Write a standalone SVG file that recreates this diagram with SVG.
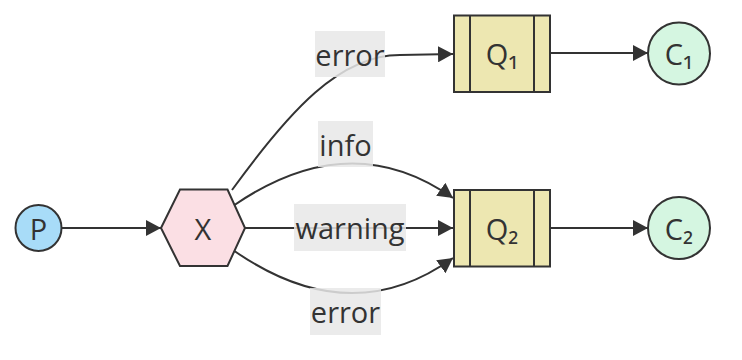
<svg xmlns="http://www.w3.org/2000/svg" width="742" height="360" viewBox="0 0 742 360">
<style>
.node{stroke:#333;stroke-width:2}
.t{font-family:"Open Sans","DejaVu Sans",sans-serif;font-size:29px;fill:#333;text-anchor:middle;dominant-baseline:central}
.e{fill:none;stroke:#333;stroke-width:2}
.lbg{fill:#e8e8e8;opacity:0.85}
</style>
<defs>
<marker id="arr" markerUnits="userSpaceOnUse" markerWidth="16" markerHeight="16" refX="15" refY="8" orient="auto">
<path d="M0,0 L15,8 L0,16 z" fill="#333"/>
</marker>
</defs>
<rect width="742" height="360" fill="#fff"/>
<g id="connectors">
<path class="e" d="M62,228 L161,228" marker-end="url(#arr)"/>
<path class="e" d="M232,190 C290,110 340,55 400,55 L453,54" marker-end="url(#arr)"/>
<path class="e" d="M233,206 Q350,125 453,198" marker-end="url(#arr)"/>
<path class="e" d="M245,228 L453,228" marker-end="url(#arr)"/>
<path class="e" d="M233,250 Q350,332 453,258" marker-end="url(#arr)"/>
<path class="e" d="M550,53 L648,53" marker-end="url(#arr)"/>
<path class="e" d="M550,228 L648,228" marker-end="url(#arr)"/>
<g id="labels">
<rect class="lbg" x="315" y="31" width="70" height="46"/>
<text class="t" x="350" y="54">error</text>
<rect class="lbg" x="318" y="121" width="55" height="46"/>
<text class="t" x="345.5" y="144">info</text>
<rect class="lbg" x="294" y="204" width="112" height="47"/>
<text class="t" x="350" y="227.5">warning</text>
<rect class="lbg" x="310" y="288" width="71" height="47"/>
<text class="t" x="345.5" y="311.5">error</text>
</g>
</g>
<g id="P">
<circle class="node" cx="38.5" cy="228" r="23" fill="#a8dcf8"/>
<text class="t" x="38.5" y="228">P</text>
</g>
<g id="X">
<polygon class="node" points="161,228 180,189.5 227.5,189.5 245,228 227.5,266 180,266" fill="#fbdfe4"/>
<text class="t" x="203" y="228">X</text>
</g>
<g id="Q1">
<rect class="node" x="454" y="15.5" width="96" height="76.5" fill="#ede7b1"/>
<line class="node" x1="470" y1="15.5" x2="470" y2="92"/>
<line class="node" x1="534" y1="15.5" x2="534" y2="92"/>
<text class="t" x="502" y="53">Q₁</text>
</g>
<g id="Q2">
<rect class="node" x="454" y="190" width="96" height="76.5" fill="#ede7b1"/>
<line class="node" x1="470" y1="190" x2="470" y2="266.5"/>
<line class="node" x1="534" y1="190" x2="534" y2="266.5"/>
<text class="t" x="502" y="228">Q₂</text>
</g>
<g id="C1">
<circle class="node" cx="679" cy="53.5" r="31" fill="#d5f6e1"/>
<text class="t" x="679" y="53.5">C₁</text>
</g>
<g id="C2">
<circle class="node" cx="679" cy="228" r="31" fill="#d5f6e1"/>
<text class="t" x="679" y="228">C₂</text>
</g>
</svg>
